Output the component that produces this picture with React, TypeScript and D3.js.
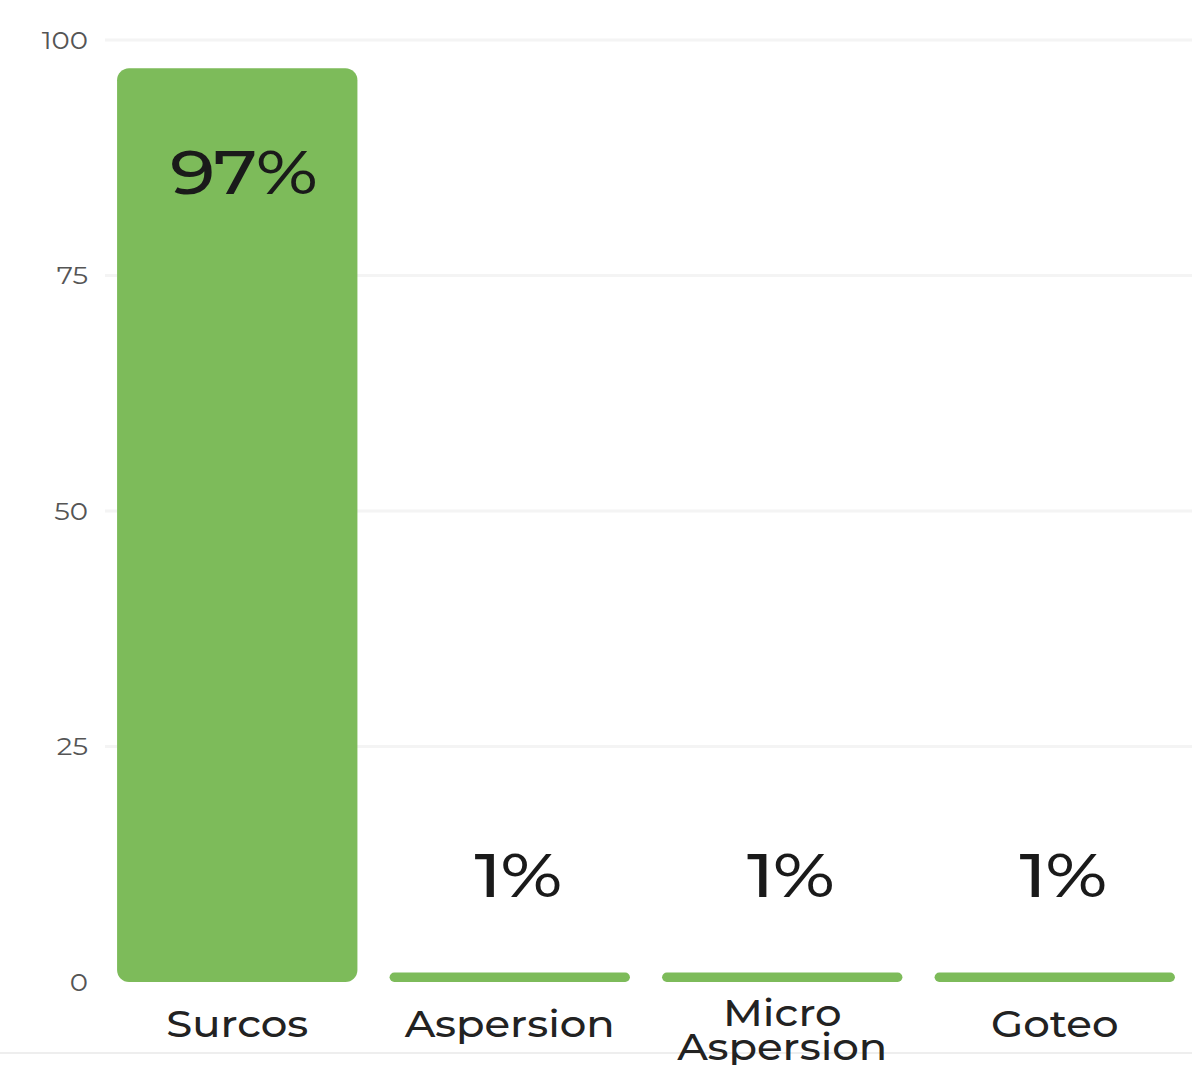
import React from "react";
import * as d3 from "d3";

const categories = ["Surcos", "Aspersion", "Micro\nAspersion", "Goteo"];
const values = [97, 1, 1, 1];
const valueLabels = ["97%", "1%", "1%", "1%"];
const yTicks = [0, 25, 50, 75, 100];

const W = 1192;
const H = 1065;

export default function App() {
  const x = d3
    .scaleBand<string>()
    .domain(categories)
    .range([101, 1191])
    .paddingInner(0.118)
    .paddingOuter(0.059);
  const y = d3.scaleLinear().domain([0, 100]).range([982, 40]);
  const green = "#7dbb5a";
  const font = "Montserrat, 'Noto Sans', 'Open Sans', sans-serif";

  return (
    <div style={{ position: "absolute", left: 0, top: 0 }}>
      <svg width={W} height={H} style={{ display: "block", background: "#fff" }}>
        {yTicks.map((t) => (
          <g key={t}>
            {t > 0 && (
              <line x1={105} x2={W} y1={y(t)} y2={y(t)} stroke="#f4f4f4" strokeWidth={3} />
            )}
            <text
              transform={`translate(88,${y(t)}) scale(1.1,1)`}
              dy="0.35em"
              textAnchor="end"
              fontFamily={font}
              fontSize={25}
              fill="#555"
            >
              {t}
            </text>
          </g>
        ))}
        <line x1={0} x2={W} y1={1053} y2={1053} stroke="#eeeeee" strokeWidth={2} />
        {categories.map((c, i) => {
          const x0 = x(c)!;
          const bw = x.bandwidth();
          const cx = x0 + bw / 2;
          const top = y(values[i]);
          const h = y(0) - top;
          const r = Math.min(12, h / 2);
          const big = h > 200;
          const lines = c.split("\n");
          const ly = big ? top + 104 : top - 97;
          return (
            <g key={c}>
              <rect x={x0} y={top} width={bw} height={h} rx={r} ry={r} fill={green} />
              <text
                transform={`translate(${cx + (big ? 6 : 8)},${ly}) scale(1.18,1)`}
                dy="0.35em"
                textAnchor="middle"
                fontFamily={font}
                fontSize={62}
                fontWeight={500}
                letterSpacing={-1}
                fill="#1a1a1a"
              >
                {valueLabels[i]}
              </text>
              {lines.map((ln, j) => (
                <text
                  key={j}
                  transform={`translate(${cx},${lines.length > 1 ? 1013 + j * 34 : 1024}) scale(1.1,1)`}
                  dy="0.35em"
                  textAnchor="middle"
                  fontFamily={font}
                  fontSize={38}
                  fontWeight={500}
                  fill="#222"
                >
                  {ln}
                </text>
              ))}
            </g>
          );
        })}
      </svg>
    </div>
  );
}
